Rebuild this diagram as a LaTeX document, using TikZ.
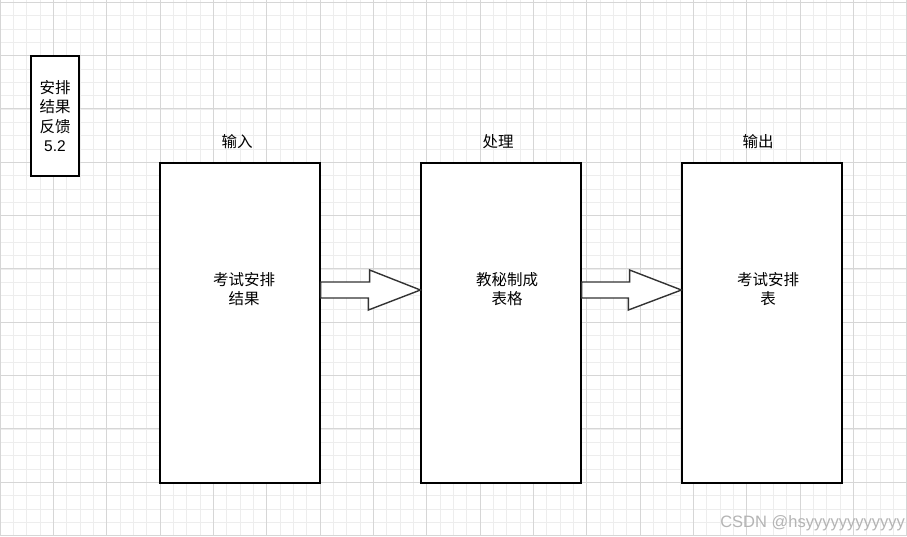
\documentclass[tikz,border=0pt]{standalone}
\usepackage{fontspec}
\setmainfont{Liberation Sans}
\newfontfamily\cjk{Noto Sans CJK SC}
\usetikzlibrary{calc}
\definecolor{minorgrid}{HTML}{EDEDED}
\definecolor{majorgrid}{HTML}{D6D6D6}
\definecolor{arrowline}{HTML}{333333}
\definecolor{wmark}{HTML}{B4B4B4}
\tikzset{
  procbox/.style={draw=black, line width=1.2pt, fill=white, minimum width=160pt, minimum height=320pt, inner sep=0pt},
  smallbox/.style={draw=black, line width=1.2pt, fill=white, minimum width=48pt, minimum height=120pt, inner sep=0pt, align=center, font=\cjk\fontsize{15.5}{19.3}\selectfont},
  boxtext/.style={align=center, inner sep=0pt, font=\cjk\fontsize{15.5}{19.3}\selectfont},
  headtext/.style={inner sep=0pt, font=\cjk\fontsize{15.5}{19}\selectfont},
  fatarrow/.style={draw=arrowline, line width=1.4pt, fill=white, line join=miter},
}
\begin{document}
\begin{tikzpicture}[x=1pt,y=-1pt]
\fill[white] (0,0) rectangle (907,536);
\useasboundingbox (0,0) rectangle (907,536);
% grid
\foreach \i in {0,...,68} {\draw[minorgrid, line width=0.8pt] ({13.3333*\i},0) -- ({13.3333*\i},536);}
\foreach \j in {0,...,40} {\draw[minorgrid, line width=0.8pt] (0,{2.3+13.3333*\j}) -- (907,{2.3+13.3333*\j});}
\foreach \i in {0,...,17} {\draw[majorgrid, line width=1pt] ({53.3333*\i},0) -- ({53.3333*\i},536);}
\foreach \j in {0,...,10} {\draw[majorgrid, line width=1pt] (0,{2.3+53.3333*\j}) -- (907,{2.3+53.3333*\j});}

% small box
\node[smallbox] (fb) at (55,116) {安排\\结果\\反馈\\{\rmfamily 5.2}};

% process boxes
\node[procbox] (b1) at (240,323) {};
\node[procbox] (b2) at (501,323) {};
\node[procbox] (b3) at (762,323) {};

\node[boxtext] (t1) at ($(b1.center)+(4,-34)$) {考试安排\\结果};
\node[boxtext] (t2) at ($(b2.center)+(6,-34)$) {教秘制成\\表格};
\node[boxtext] (t3) at ($(b3.center)+(6,-34)$) {考试安排\\表};

\node[headtext] (h1) at ($(b1.north)+(-3,-21)$) {输入};
\node[headtext] (h2) at ($(b2.north)+(-3,-21)$) {处理};
\node[headtext] (h3) at ($(b3.north)+(-4,-21)$) {输出};

% fat arrows
\draw[fatarrow] ($(b1.east)+(0,-41)$) -- ++(49,0) -- ++(0,-12) -- ($(b2.west)+(0,-33)$) -- ++(-52,20) -- ++(0,-12) -- ($(b1.east)+(0,-25)$) -- cycle;
\draw[fatarrow] ($(b2.east)+(0,-41)$) -- ++(48,0) -- ++(0,-12) -- ($(b3.west)+(0,-33)$) -- ++(-53,20) -- ++(0,-12) -- ($(b2.east)+(0,-25)$) -- cycle;

% watermark
\node[anchor=base east, inner sep=0pt, text=wmark, font=\fontsize{16.5}{18}\selectfont] (wm) at (905,527) {CSDN @hsyyyyyyyyyyyy};
\end{tikzpicture}
\end{document}
